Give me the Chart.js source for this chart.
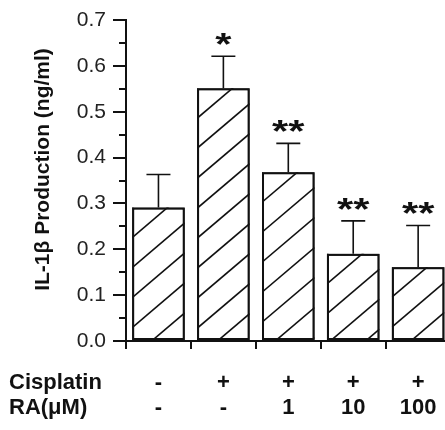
<!DOCTYPE html>
<html>
<head>
<meta charset="utf-8">
<script src="https://cdn.jsdelivr.net/npm/chart.js@4"></script>
<style>
  html, body { margin: 0; padding: 0; overflow: hidden; background: #fff; }
  #wrap { width: 458px; height: 430px; }
</style>
</head>
<body>
<div id="wrap"><canvas id="chart" width="458" height="430"></canvas></div>
<script>
// data
const cisplatinRow = ["-", "+", "+", "+", "+"];
const raRow = ["-", "-", "1", "10", "100"];
const il1bMeans = [0.291, 0.551, 0.368, 0.190, 0.161];
const il1bErrors = [0.072, 0.070, 0.063, 0.072, 0.091];
const significance = ["", "*", "**", "**", "**"];
const yTicks = [0, 0.1, 0.2, 0.3, 0.4, 0.5, 0.6, 0.7];
const rowNames = ["Cisplatin", "RA(\u03bcM)"];

const FONT = "'Liberation Sans', Arial, sans-serif";

const extras = {
  id: "extras",
  afterDatasetsDraw(chart) {
    const ctx = chart.ctx;
    const y = chart.scales.y;
    const x = chart.scales.x;
    const meta = chart.getDatasetMeta(0);
    ctx.save();
    ctx.strokeStyle = "#111";
    ctx.fillStyle = "#111";

    // "/" hatching inside each bar
    const slope = 0.85, gap = 30;
    meta.data.forEach((bar) => {
      const { x: bx, y: by, base, width } = bar.getProps(["x", "y", "base", "width"], true);
      const l = bx - width / 2, r = bx + width / 2;
      ctx.save();
      ctx.beginPath();
      ctx.rect(l, by, width, base - by);
      ctx.clip();
      ctx.lineWidth = 1.6;
      for (let c = by; c < base + slope * width + gap; c += gap) {
        ctx.beginPath();
        ctx.moveTo(l, c);
        ctx.lineTo(r, c - slope * width);
        ctx.stroke();
      }
      ctx.restore();
      // outline back on top of the hatch
      ctx.lineWidth = 2;
      ctx.strokeRect(l + 1, by + 1, width - 2, base - by - 2);
    });

    // minor ticks on y axis
    ctx.lineWidth = 2;
    for (let v = 0.05; v < 0.7; v += 0.1) {
      const py = Math.round(y.getPixelForValue(v));
      ctx.beginPath();
      ctx.moveTo(y.right - 7, py);
      ctx.lineTo(y.right, py);
      ctx.stroke();
    }

    // error bars (upper only) and significance marks
    meta.data.forEach((bar, i) => {
      const top = y.getPixelForValue(il1bMeans[i]);
      const errTop = y.getPixelForValue(il1bMeans[i] + il1bErrors[i]);
      ctx.lineWidth = 1.6;
      ctx.beginPath();
      ctx.moveTo(bar.x, top);
      ctx.lineTo(bar.x, errTop);
      ctx.moveTo(bar.x - 12, errTop);
      ctx.lineTo(bar.x + 12, errTop);
      ctx.stroke();
      if (significance[i]) {
        ctx.save();
        ctx.translate(bar.x, errTop - 1);
        ctx.scale(1.3, 1);
        ctx.font = "bold 32px " + FONT;
        ctx.textAlign = "center";
        ctx.textBaseline = "alphabetic";
        ctx.fillText(significance[i], 0, 0);
        ctx.restore();
      }
    });

    // y axis title
    ctx.save();
    ctx.translate(43, (y.top + y.bottom) / 2 - 11);
    ctx.rotate(-Math.PI / 2);
    ctx.font = "bold 21px " + FONT;
    ctx.textAlign = "center";
    ctx.textBaseline = "middle";
    ctx.fillText("IL-1\u03b2 Production (ng/ml)", 0, 0);
    ctx.restore();

    // row names of the treatment table
    ctx.font = "bold 22px " + FONT;
    ctx.textAlign = "left";
    ctx.textBaseline = "middle";
    rowNames.forEach((name, r) => {
      ctx.fillText(name, 9, x.top + 8 + 21 + 25 * r + 12.5);
    });
    ctx.restore();
  }
};

const ctx = document.getElementById("chart").getContext("2d");
new Chart(ctx, {
  type: "bar",
  data: {
    labels: cisplatinRow.map((c, i) => [c, raRow[i]]),
    datasets: [
      {
        label: "IL-1\u03b2",
        data: il1bMeans,
        backgroundColor: "#fff",
        borderColor: "#111",
        borderWidth: 2,
        borderSkipped: false,
        barPercentage: 0.81,
        categoryPercentage: 1.0,
      },
    ],
  },
  options: {
    responsive: false,
    animation: false,
    events: [],
    layout: { padding: { top: 20, right: 5, left: 0, bottom: 0 } },
    plugins: {
      legend: { display: false },
      tooltip: { enabled: false },
    },
    scales: {
      x: {
        grid: {
          offset: true,
          drawOnChartArea: false,
          drawTicks: true,
          tickLength: 8,
          color: "#111",
          lineWidth: 2,
        },
        border: { display: true, color: "#111", width: 2 },
        ticks: {
          color: "#111",
          padding: 21,
          maxRotation: 0,
          font: { family: FONT, size: 22, weight: "bold", lineHeight: "25px" },
        },
        afterFit: (scale) => { scale.height = 89; },
      },
      y: {
        min: 0,
        max: 0.7,
        afterBuildTicks: (scale) => { scale.ticks = yTicks.map((v) => ({ value: v })); },
        grid: {
          drawOnChartArea: false,
          drawTicks: true,
          tickLength: 13,
          color: "#111",
          lineWidth: 2,
        },
        border: { display: true, color: "#111", width: 2 },
        ticks: {
          color: "#222",
          padding: 7,
          font: { family: FONT, size: 21 },
          callback: (v) => v.toFixed(1),
        },
        afterFit: (scale) => { scale.width = 126; },
      },
    },
  },
  plugins: [extras],
});
</script>
</body>
</html>
